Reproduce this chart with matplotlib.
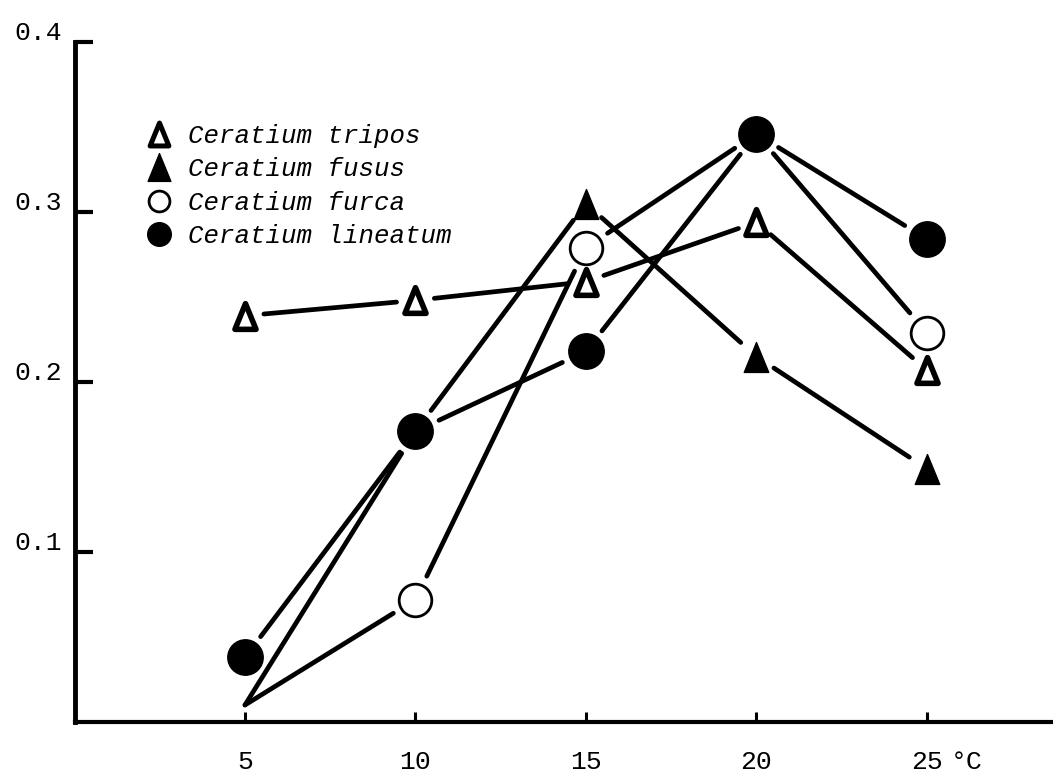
import numpy as np
import matplotlib
matplotlib.use("Agg")
import matplotlib.pyplot as plt
from matplotlib.lines import Line2D
from matplotlib.collections import LineCollection
from matplotlib.markers import MarkerStyle
from matplotlib.path import Path
from matplotlib.transforms import ScaledTranslation
from matplotlib.font_manager import FontProperties

# ---- data ----
temps = [5, 10, 15, 20, 25]
tripos = [0.239, 0.248, 0.259, 0.294, 0.207]
fusus = [0.010, 0.171, 0.305, 0.215, 0.149]
furca = [0.010, 0.072, 0.279, 0.346, 0.229]
lineatum = [0.038, 0.171, 0.218, 0.346, 0.284]
labels = ["Ceratium tripos", "Ceratium fusus", "Ceratium furca", "Ceratium lineatum"]
xtick_vals = [5, 10, 15, 20, 25]
xtick_labels = ["5", "10", "15", "20", "25"]
ytick_vals = [0.1, 0.2, 0.3, 0.4]
ytick_labels = ["0.1", "0.2", "0.3", "0.4"]
# points where lines meet without a marker, and points hidden under a filled circle
no_gap = {"fusus": [0], "furca": [0]}
hidden = {"fusus": [0, 1], "furca": [0, 3]}

W, H = 1053, 777
fig = plt.figure(figsize=(W / 100, H / 100), dpi=100)
x0px, x1px = 74.5, 1053
y0px, y1px = 722, 42
ax = fig.add_axes([x0px / W, 1 - y0px / H, (x1px - x0px) / W, (y0px - y1px) / H])
ax.set_xlim(0, 28.7)
ax.set_ylim(0, 0.4)

tri_path = Path([(0, 1), (-0.82, -1), (0.82, -1), (0, 1)],
                [Path.MOVETO, Path.LINETO, Path.LINETO, Path.CLOSEPOLY])
tri = MarkerStyle(tri_path, joinstyle="round")

styles = {
    "tripos": dict(marker=tri, ms=18.5, mfc="white", mec="black", mew=4.0, gap=19),
    "fusus": dict(marker=tri, ms=21.5, mfc="black", mec="black", mew=1.0, gap=21),
    "furca": dict(marker="o", ms=23.5, mfc="white", mec="black", mew=2.0, gap=26),
    "lineatum": dict(marker="o", ms=25.5, mfc="black", mec="black", mew=1.0, gap=26),
}
legend_ms = {"tripos": 16.5, "fusus": 20, "furca": 15, "lineatum": 17}
legend_mew = {"tripos": 3.6, "fusus": 1.0, "furca": 2.0, "lineatum": 1.0}
series = {"tripos": tripos, "fusus": fusus, "furca": furca, "lineatum": lineatum}

T = ax.transData
Tinv = T.inverted()


def gapped_segments(xs, ys, gaps):
    pts = T.transform(np.column_stack([xs, ys]))
    segs = []
    for i in range(len(pts) - 1):
        p, q = pts[i], pts[i + 1]
        d = q - p
        L = np.hypot(*d)
        u = d / L
        a = p + u * gaps[i]
        b = q - u * gaps[i + 1]
        segs.append(Tinv.transform(np.vstack([a, b])))
    return segs


for z, (name, vals) in enumerate(series.items()):
    st = styles[name]
    ng = no_gap.get(name, [])
    hd = hidden.get(name, [])
    gaps = []
    for i in range(len(temps)):
        if i in ng:
            gaps.append(0)
        elif i in hd:
            gaps.append(styles["lineatum"]["gap"])
        else:
            gaps.append(st["gap"])
    lc = LineCollection(gapped_segments(temps, vals, gaps), colors="black",
                        linewidths=3.4, capstyle="round", zorder=2)
    ax.add_collection(lc)
    show = [i for i in range(len(temps)) if i not in hd]
    ax.plot(temps, vals, ls="none", marker=st["marker"], ms=st["ms"],
            mfc=st["mfc"], mec=st["mec"], mew=st["mew"], markevery=show,
            zorder=3 + z, clip_on=False)

# axes styling
for s in ["top", "right"]:
    ax.spines[s].set_visible(False)
ax.spines["left"].set_linewidth(3.5)
ax.spines["bottom"].set_linewidth(3.0)

mono = "Liberation Mono"
ax.set_xticks(xtick_vals)
ax.set_xticklabels(xtick_labels, fontfamily=mono, fontsize=19)
ax.set_yticks(ytick_vals)
ax.set_yticklabels(ytick_labels, fontfamily=mono, fontsize=19)
ax.tick_params(axis="x", direction="in", length=7, width=2.2, pad=20)
ax.tick_params(axis="y", direction="in", length=13, width=3.0, pad=9)
for lab in ax.get_yticklabels():
    lab.set_transform(lab.get_transform() + ScaledTranslation(0, 0.11, fig.dpi_scale_trans))

ax.annotate("°C", xy=(25, 0), xycoords=("data", "axes fraction"),
            xytext=(17, -20), textcoords="offset points", ha="left", va="top",
            fontfamily=mono, fontsize=19)

# legend
handles = []
for name in series:
    st = styles[name]
    handles.append(Line2D([], [], ls="none", marker=st["marker"], ms=legend_ms[name],
                          mfc=st["mfc"], mec=st["mec"], mew=legend_mew[name]))
leg = ax.legend(handles, labels, loc="upper left",
                bbox_to_anchor=(146 / W, 1 - 124 / H), bbox_transform=fig.transFigure,
                frameon=False, handlelength=1.0, handletextpad=0.65, labelspacing=0.36,
                borderpad=0, borderaxespad=0,
                prop=FontProperties(family=mono, style="italic", size=18.5))

fig.savefig("out.png", dpi=100)
